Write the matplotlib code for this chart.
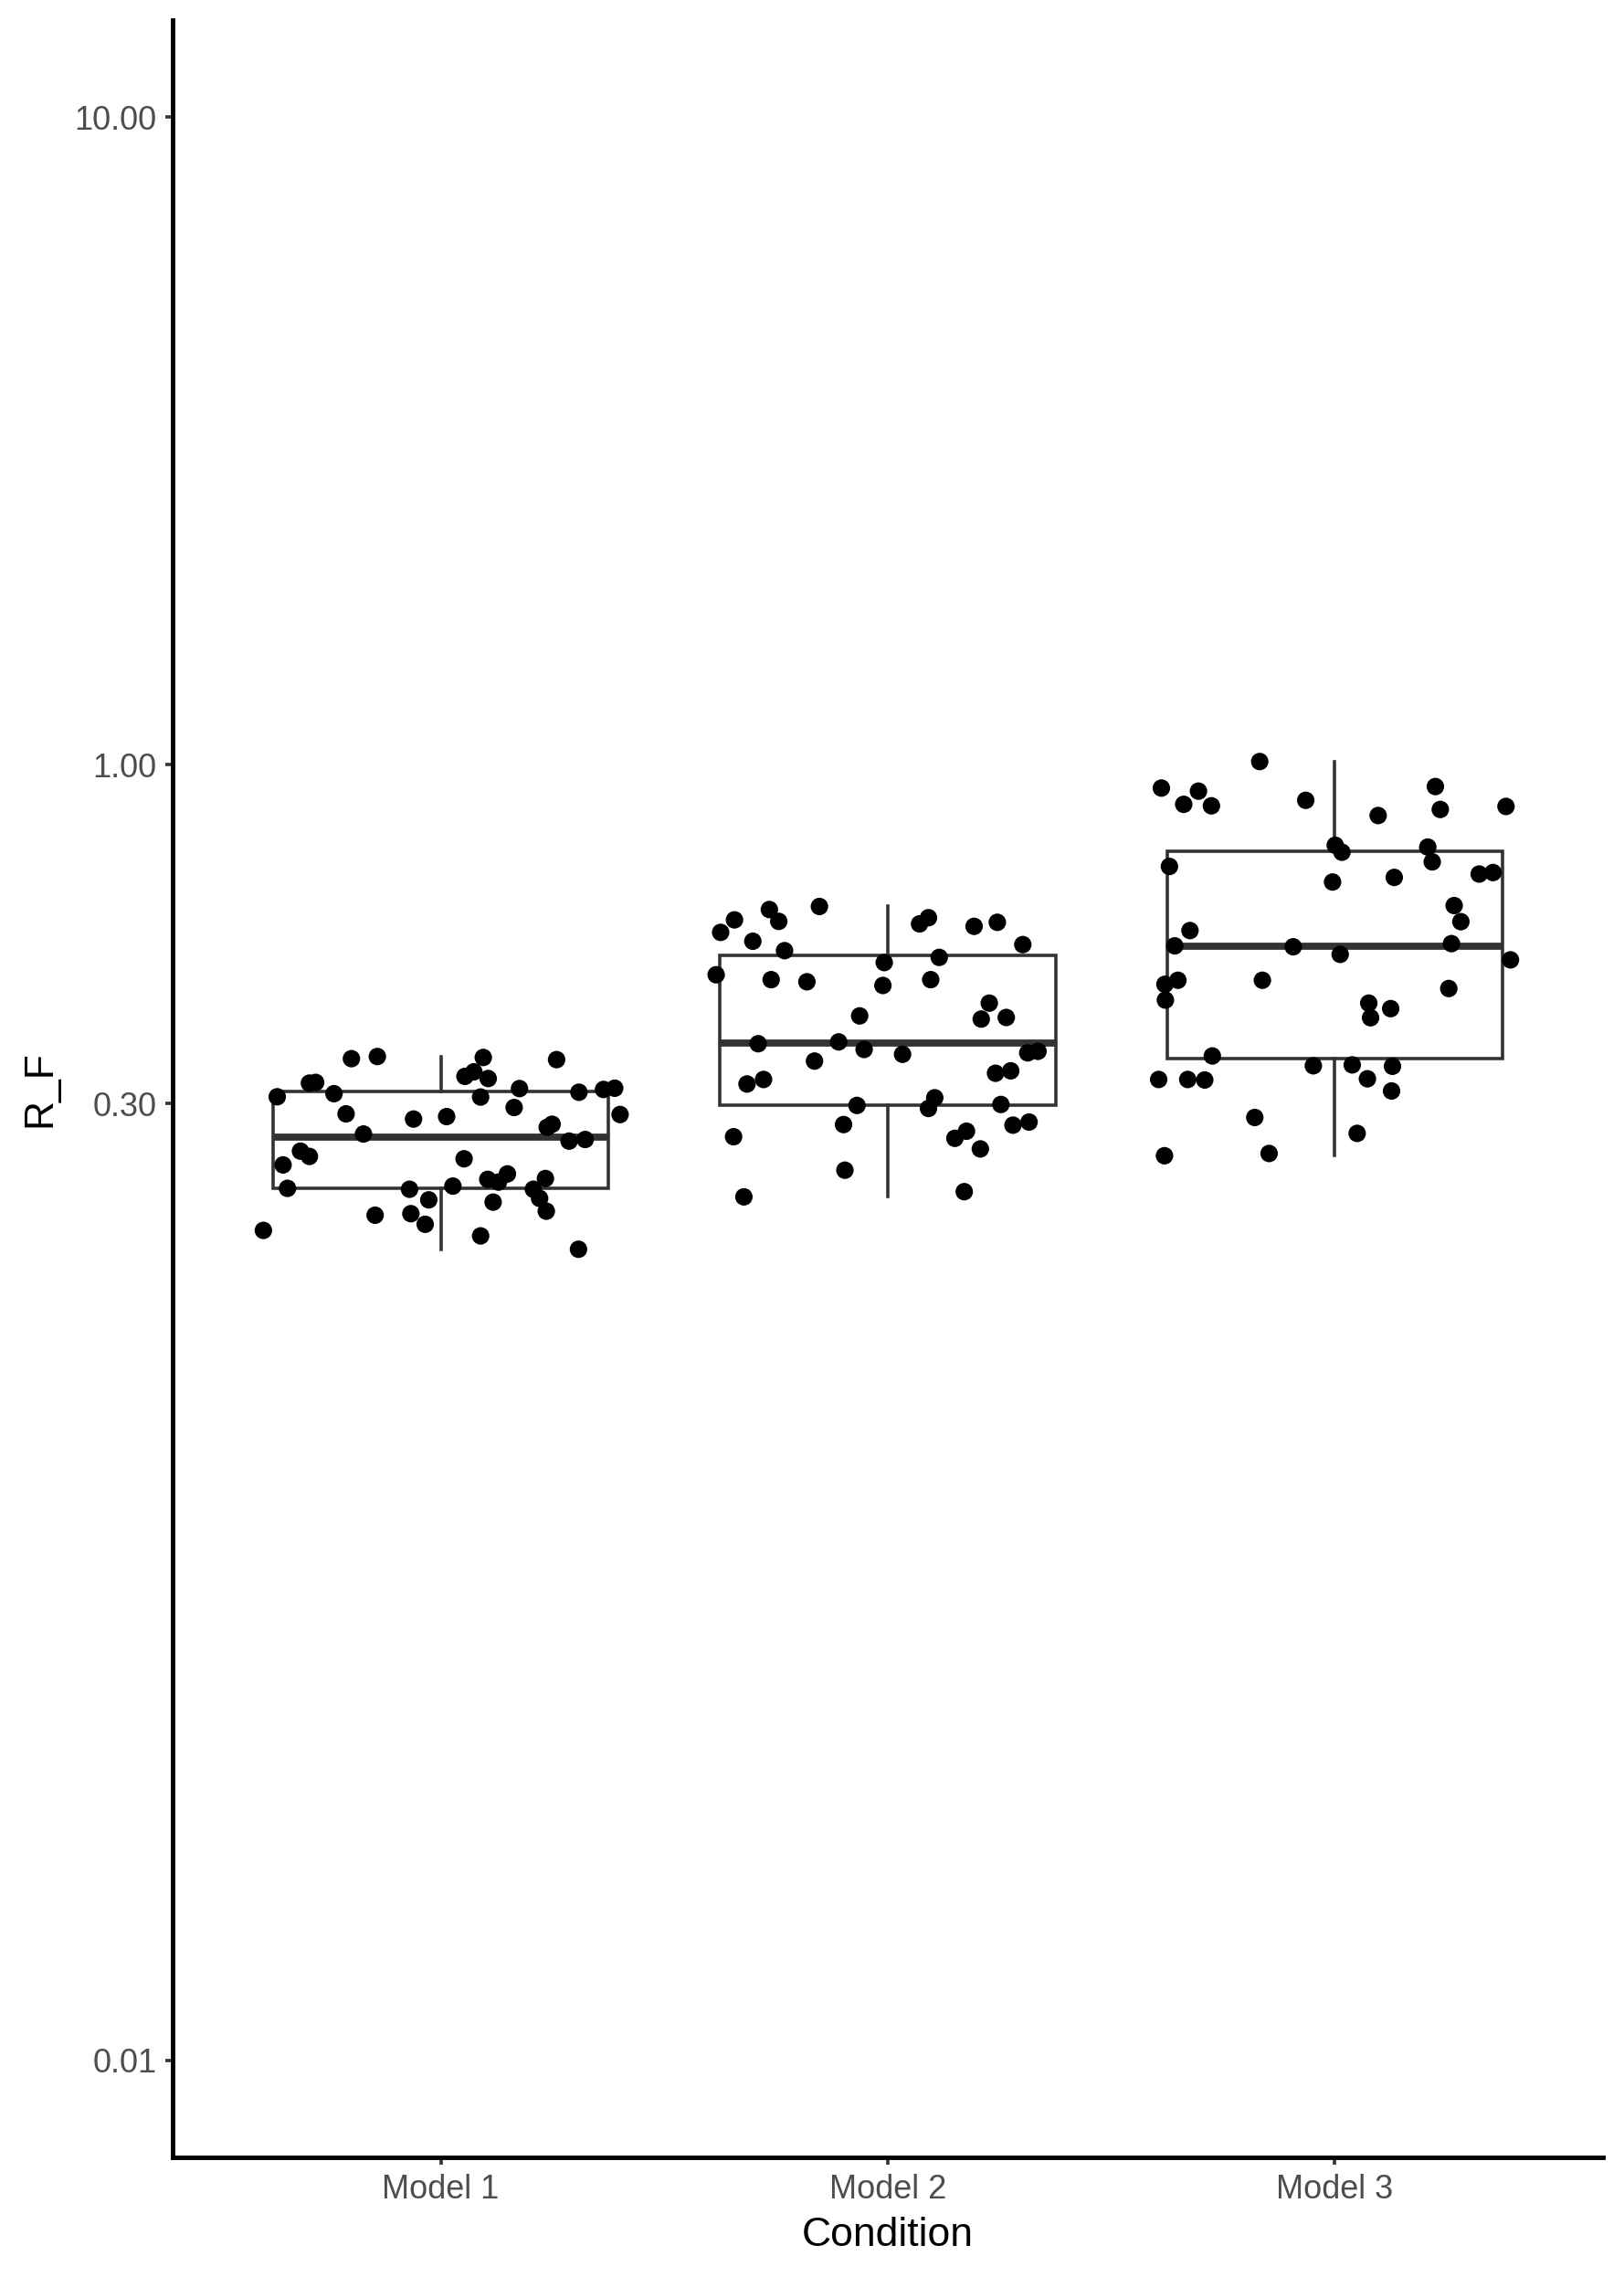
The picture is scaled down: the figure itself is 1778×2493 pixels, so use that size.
import numpy as np
import matplotlib
matplotlib.use("Agg")
import matplotlib.pyplot as plt
from matplotlib import cbook

plt.rcParams['font.family'] = ['Liberation Sans', 'DejaVu Sans']

categories = ['Model 1', 'Model 2', 'Model 3']
y_ticks = [0.01, 0.30, 1.00, 10.00]
y_tick_labels = ['0.01', '0.30', '1.00', '10.00']

model1_rf = [0.3519, 0.3546, 0.3534, 0.3507, 0.3304, 0.3358, 0.3279, 0.3226, 0.3234, 0.3073,
             0.3107, 0.3070, 0.3164, 0.3123, 0.3154, 0.3168, 0.2892, 0.2839, 0.2864, 0.2958,
             0.2885, 0.2757, 0.2787, 0.2692, 0.2625, 0.2640, 0.2533, 0.2486, 0.2412, 0.2465,
             0.2219, 0.2212, 0.2237, 0.2291, 0.2269, 0.2336, 0.2212, 0.2141, 0.2298, 0.2130,
             0.2113, 0.2017, 0.2028, 0.1953, 0.2046, 0.1911, 0.1874, 0.1787]
model1_jit = [-0.200, -0.142, 0.095, 0.259, 0.054, 0.074, 0.106, -0.294, -0.280, -0.366,
              -0.239, 0.089, 0.176, 0.309, 0.364, 0.389, -0.212, -0.061, 0.013, 0.164,
              0.401, 0.238, 0.249, -0.173, 0.287, 0.323, -0.314, -0.294, -0.353, 0.052,
              -0.343, -0.070, 0.027, 0.105, 0.129, 0.149, 0.207, 0.221, 0.234, -0.027,
              0.117, -0.147, -0.067, -0.035, 0.236, -0.397, 0.089, 0.308]

model2_rf = [0.6045, 0.5980, 0.5733, 0.5764, 0.5513, 0.5342, 0.5166, 0.5682, 0.5808, 0.5633,
             0.5714, 0.5279, 0.5044, 0.4952, 0.4742, 0.4660, 0.4625, 0.4565, 0.4660, 0.4287,
             0.4051, 0.4074, 0.4097, 0.3711, 0.3735, 0.3636, 0.3574, 0.3592, 0.3612, 0.3489,
             0.3341, 0.3370, 0.3216, 0.3268, 0.2980, 0.3062, 0.2948, 0.2990, 0.2784, 0.2666,
             0.2651, 0.2719, 0.2778, 0.2809, 0.2553, 0.2367, 0.2153, 0.2193]
model2_jit = [-0.153, -0.265, -0.244, -0.343, -0.374, -0.302, -0.231, 0.071, 0.091, 0.193,
              0.245, 0.302, 0.115, -0.008, -0.384, -0.261, -0.181, -0.011, 0.096, 0.227,
              0.209, 0.265, -0.063, -0.290, -0.110, -0.053, 0.033, 0.313, 0.336, -0.164,
              0.241, 0.275, -0.315, -0.278, -0.069, 0.105, 0.091, 0.253, -0.099, -0.345,
              0.150, 0.176, 0.280, 0.316, 0.207, -0.096, -0.322, 0.171]

model3_rf = [1.012, 0.9209, 0.9109, 0.8692, 0.8646, 0.8817, 0.9259, 0.8535, 0.8627, 0.8353,
             0.7515, 0.7331, 0.7467, 0.7084, 0.6970, 0.6594, 0.6703, 0.6784, 0.6820, 0.6065,
             0.5727, 0.5549, 0.5255, 0.5238, 0.5099, 0.5297, 0.5000, 0.4584, 0.4650, 0.4334,
             0.4650, 0.4516, 0.4287, 0.4204, 0.4070, 0.3553, 0.3268, 0.3268, 0.3262, 0.3431,
             0.3442, 0.3276, 0.3425, 0.3137, 0.2855, 0.2698, 0.2492, 0.2512]
model3_jit = [-0.168, -0.388, -0.305, -0.338, -0.276, -0.065, 0.225, 0.236, 0.383, 0.097,
              0.001, 0.016, 0.208, 0.218, -0.370, -0.005, 0.133, 0.323, 0.354, 0.267,
              0.282, -0.324, -0.358, -0.093, 0.012, 0.261, 0.393, -0.380, -0.351, -0.379,
              -0.162, 0.255, 0.076, 0.125, 0.080, -0.274, -0.394, -0.329, -0.291, -0.048,
              0.039, 0.073, 0.129, 0.127, -0.179, 0.050, -0.381, -0.147]

series = [model1_rf, model2_rf, model3_rf]
jitters = [model1_jit, model2_jit, model3_jit]

W, H, DPI = 1778, 2493, 100
fig = plt.figure(figsize=(W / DPI, H / DPI), dpi=DPI)
ax = fig.add_axes([189 / W, 1 - 2362 / H, (1755 - 189) / W, (2362 - 22) / H])

positions = np.arange(1, len(categories) + 1)

# box statistics computed on log10 scale (like ggplot scale_y_log10), then back-transformed
stats = []
for vals in series:
    s = cbook.boxplot_stats(np.log10(vals), whis=1.5)[0]
    for k in ('med', 'q1', 'q3', 'whislo', 'whishi', 'mean'):
        s[k] = 10 ** s[k]
    s['fliers'] = []
    stats.append(s)

line_col = '#333333'
ax.bxp(stats, positions=positions, widths=0.75, showfliers=False, showcaps=False,
       patch_artist=True,
       boxprops=dict(facecolor='white', edgecolor=line_col, linewidth=2.6),
       medianprops=dict(color=line_col, linewidth=5.6, solid_capstyle='butt'),
       whiskerprops=dict(color=line_col, linewidth=2.6),
       zorder=2)

for pos, vals, jit in zip(positions, series, jitters):
    ax.scatter(pos + np.array(jit), vals, s=190, color='black', edgecolors='none', zorder=3)

ax.set_yscale('log')
ax.set_ylim(10 ** -2.15, 10 ** 1.15)
ax.set_xlim(0.4, 3.6)
ax.set_yticks(y_ticks)
ax.set_yticklabels(y_tick_labels)
ax.yaxis.set_minor_locator(matplotlib.ticker.NullLocator())
ax.set_xticks(positions)
ax.set_xticklabels(categories)

for side in ('top', 'right'):
    ax.spines[side].set_visible(False)
for side in ('left', 'bottom'):
    ax.spines[side].set_linewidth(3.5)
    ax.spines[side].set_color('black')

ax.tick_params(axis='both', which='major', length=8 * 72 / DPI, width=2.6, color=line_col,
               labelcolor='#4D4D4D', labelsize=26, pad=7)

ax.set_xlabel('Condition', fontsize=32, color='black', labelpad=9)
ax.set_ylabel('R_F', fontsize=32, color='black', labelpad=12)

fig.savefig('out.png', dpi=DPI, facecolor='white')
